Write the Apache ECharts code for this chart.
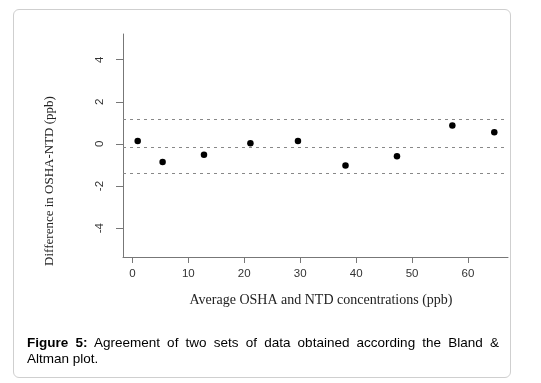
<!DOCTYPE html>
<html>
<head>
<meta charset="utf-8">
<script src="https://cdn.jsdelivr.net/npm/echarts@6/dist/echarts.min.js"></script>
<style>
  html, body { margin: 0; padding: 0; background: #fff; }
  .frame {
    position: absolute; left: 13px; top: 9px; width: 498px; height: 369px;
    border: 1px solid #cfcfcf; border-radius: 6px; box-sizing: border-box;
  }
  #chart { position: absolute; left: 0; top: 0; width: 541px; height: 383px; }
  .caption {
    position: absolute; left: 27px; top: 335px; width: 472px;
    font-family: Arial, "Liberation Sans", sans-serif; font-size: 13.5px; line-height: 16px;
    color: #000; text-align: justify; text-align-last: left;
  }
</style>
</head>
<body>
<div class="frame"></div>
<div id="chart"></div>
<div class="caption"><b>Figure 5:</b> Agreement of two sets of data obtained according the Bland &amp; Altman plot.</div>
<script>
// average of the two methods (ppb)
const avgValues = [0.95, 5.4, 12.8, 21.1, 29.6, 38.1, 47.3, 57.2, 64.7]
// difference OSHA - NTD (ppb)
const diffValues = [0.14, -0.86, -0.52, 0.03, 0.14, -1.03, -0.59, 0.87, 0.55]
// upper limit, mean difference, lower limit
const limitValues = [1.16, -0.14, -1.41]
const xTicks = [0, 10, 20, 30, 40, 50, 60]
const yTicks = [-4, -2, 0, 2, 4]

const chart = echarts.init(document.getElementById('chart'))

const points = avgValues.map((x, i) => [x, diffValues[i]])

const option = {
  animation: false,
  backgroundColor: 'transparent',
  grid: { left: 123, right: 33, top: 34, bottom: 126 },
  xAxis: {
    type: 'value',
    min: -1.68,
    max: 67.15,
    axisLine: { show: true, onZero: false, lineStyle: { color: '#777', width: 1 } },
    axisTick: { show: true, customValues: xTicks, length: 6, lineStyle: { color: '#777' } },
    axisLabel: {
      customValues: xTicks,
      margin: 11,
      color: '#333',
      fontSize: 11.5,
      fontFamily: 'Liberation Sans, Arial, sans-serif'
    },
    splitLine: { show: false }
  },
  yAxis: {
    type: 'value',
    min: -5.37,
    max: 5.22,
    axisLine: { show: true, onZero: false, lineStyle: { color: '#777', width: 1 } },
    axisTick: { show: true, customValues: yTicks, length: 7, lineStyle: { color: '#777' } },
    axisLabel: {
      customValues: yTicks,
      rotate: 90,
      margin: 17,
      color: '#333',
      fontSize: 11.5,
      fontFamily: 'Liberation Sans, Arial, sans-serif'
    },
    splitLine: { show: false }
  },
  graphic: [
    {
      type: 'text',
      x: 50,
      y: 181,
      rotation: Math.PI / 2,
      style: {
        text: 'Difference in OSHA-NTD (ppb)',
        font: '13px "Liberation Serif", "Times New Roman", serif',
        fill: '#222',
        align: 'center',
        verticalAlign: 'middle'
      }
    },
    {
      type: 'text',
      x: 321,
      y: 300,
      style: {
        text: 'Average OSHA and NTD concentrations (ppb)',
        font: '14px "Liberation Serif", "Times New Roman", serif',
        fill: '#222',
        align: 'center',
        verticalAlign: 'middle'
      }
    }
  ],
  series: [
    {
      type: 'scatter',
      data: points,
      symbol: 'circle',
      symbolSize: 6.5,
      itemStyle: { color: '#000', opacity: 1 },
      markLine: {
        silent: true,
        symbol: ['none', 'none'],
        label: { show: false },
        lineStyle: { color: '#888', type: [3, 4], width: 1.2 },
        data: limitValues.map(v => ({ yAxis: v }))
      }
    }
  ]
}

chart.setOption(option)
</script>
</body>
</html>
